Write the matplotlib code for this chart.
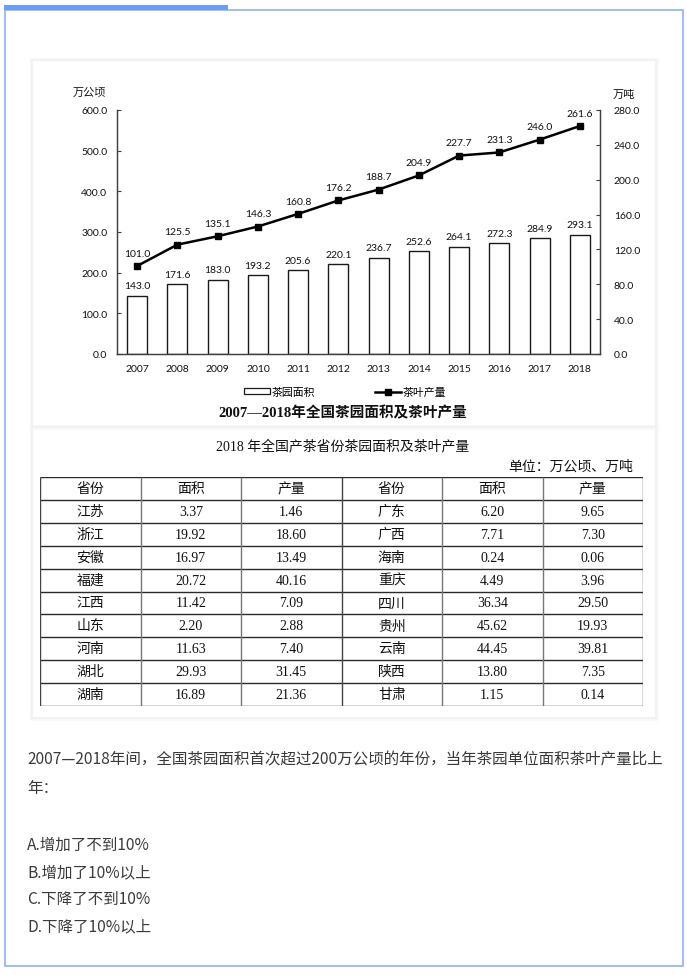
import numpy as np
import matplotlib

matplotlib.use("Agg")
import matplotlib.pyplot as plt
from matplotlib.patches import Rectangle
from matplotlib.lines import Line2D

plt.rcParams["font.family"] = ["Lato", "Noto Sans CJK SC", "DejaVu Sans"]

W, H = 687, 978

# chart data
years = ["2007", "2008", "2009", "2010", "2011", "2012",
         "2013", "2014", "2015", "2016", "2017", "2018"]
area = [143.0, 171.6, 183.0, 193.2, 205.6, 220.1,
        236.7, 252.6, 264.1, 272.3, 284.9, 293.1]
output = [101.0, 125.5, 135.1, 146.3, 160.8, 176.2,
          188.7, 204.9, 227.7, 231.3, 246.0, 261.6]

# table data
table_header = ["省份", "面积", "产量", "省份", "面积", "产量"]
prov_left = ["江苏", "浙江", "安徽", "福建", "江西", "山东", "河南", "湖北", "湖南"]
area_left = ["3.37", "19.92", "16.97", "20.72", "11.42", "2.20", "11.63", "29.93", "16.89"]
out_left = ["1.46", "18.60", "13.49", "40.16", "7.09", "2.88", "7.40", "31.45", "21.36"]
prov_right = ["广东", "广西", "海南", "重庆", "四川", "贵州", "云南", "陕西", "甘肃"]
area_right = ["6.20", "7.71", "0.24", "4.49", "36.34", "45.62", "44.45", "13.80", "1.15"]
out_right = ["9.65", "7.30", "0.06", "3.96", "29.50", "19.93", "39.81", "7.35", "0.14"]

question = "2007—2018年间，全国茶园面积首次超过200万公顷的年份，当年茶园单位面积茶叶产量比上"
question2 = "年："
options = ["A.增加了不到10%", "B.增加了10%以上", "C.下降了不到10%", "D.下降了10%以上"]


def box(x0, y0, x1, y1):
    return [x0 / W, 1 - y1 / H, (x1 - x0) / W, (y1 - y0) / H]


fig = plt.figure(figsize=(W / 100, H / 100), dpi=100)

# page background in pixel coords
bg = fig.add_axes([0, 0, 1, 1])
bg.set_xlim(0, W)
bg.set_ylim(H, 0)
bg.axis("off")
bg.add_patch(Rectangle((4.5, 10.5), 678, 956, fill=False, ec="#8fb3f5", lw=1.2))
bg.add_patch(Rectangle((4, 6), 224, 5, fc="#6b9cf7", ec="none"))
for pad, col in [(2.5, "#f9f9f9"), (1.2, "#f1f1f1")]:
    bg.add_patch(Rectangle((33 - pad, 62 - pad), 622 + 2 * pad, 365 + 2 * pad,
                           fill=False, ec=col, lw=1.5))
    bg.add_patch(Rectangle((33 - pad, 429 - pad), 622 + 2 * pad, 289 + 2 * pad,
                           fill=False, ec=col, lw=1.5))

txt = "#3a3a3a"
qfont = ["Noto Sans CJK SC", "DejaVu Sans"]
bg.text(27, 760, question, fontsize=11.2, color=txt, va="center", family=qfont)
bg.text(27, 789, question2, fontsize=11.2, color=txt, va="center", family=qfont)
for i, opt in enumerate(options):
    bg.text(27, 845 + i * 27.3, opt, fontsize=11.2, color=txt, va="center", family=qfont)

# chart
ax = fig.add_axes(box(117, 111, 600, 355))
x = np.arange(len(years))
ax.bar(x, area, width=0.5, facecolor="white", edgecolor="#1a1a1a", linewidth=1.0,
       label="茶园面积", zorder=2)
ax.set_xlim(-0.5, len(years) - 0.5)
ax.set_ylim(0, 600)
ax.set_yticks(np.arange(0, 601, 100))
ax.set_yticklabels([f"{v:.1f}" for v in np.arange(0, 601, 100)])
ax.set_xticks(x)
ax.set_xticklabels(years)
for xi, v in zip(x, area):
    ax.annotate(f"{v:.1f}", (xi, v), xytext=(0, 4), textcoords="offset points",
                ha="center", va="bottom", fontsize=7.5, color="#111111")

ax2 = ax.twinx()
ax2.plot(x, output, color="black", lw=1.8, marker="s", markersize=5,
         label="茶叶产量", zorder=3)
ax2.set_ylim(0, 280)
ax2.set_yticks(np.arange(0, 281, 40))
ax2.set_yticklabels([f"{v:.1f}" for v in np.arange(0, 281, 40)])
for xi, v in zip(x, output):
    ax2.annotate(f"{v:.1f}", (xi, v), xytext=(0, 6), textcoords="offset points",
                 ha="center", va="bottom", fontsize=7.5, color="#111111")

for a in (ax, ax2):
    a.spines["top"].set_visible(False)
    for s in ("left", "right", "bottom"):
        a.spines[s].set_color("#404040")
        a.spines[s].set_linewidth(0.9)
    a.tick_params(labelsize=7.5, colors="#111111", length=3, width=0.8, direction="in")
    a.tick_params(axis="y", colors="#404040", labelcolor="#111111")
ax.tick_params(axis="x", length=0, pad=7)
ax.tick_params(axis="y", pad=7)
ax2.tick_params(axis="y", pad=10)

fig.text(73 / W, 1 - 93 / H, "万公顷", fontsize=8, va="center", family=qfont, color="#111111")
fig.text(613 / W, 1 - 95 / H, "万吨", fontsize=8, va="center", family=qfont, color="#111111")

handles = [Rectangle((0, 0), 1, 1, fc="white", ec="#1a1a1a", lw=0.9),
           Line2D([], [], color="black", lw=1.8, marker="s", markersize=4.5)]
fig.legend(handles, ["茶园面积", "茶叶产量"], loc="center", bbox_to_anchor=(345 / W, 1 - 393 / H),
           ncol=2, frameon=False, handlelength=2.4, handleheight=0.5,
           handletextpad=0.2, columnspacing=5.5, prop={"family": qfont, "size": 7.8})

serif = ["Liberation Serif", "Noto Sans CJK SC"]
fig.text(343 / W, 1 - 413 / H, "2007—2018年全国茶园面积及茶叶产量", fontsize=10.5,
         fontweight="bold", ha="center", va="center", family=serif, color="#111111")

# table
fig.text(343 / W, 1 - 446 / H, "2018 年全国产茶省份茶园面积及茶叶产量", fontsize=10,
         ha="center", va="center", family=serif, color="#111111")
fig.text(633 / W, 1 - 467 / H, "单位：万公顷、万吨", fontsize=10,
         ha="right", va="center", family=serif, color="#111111")

tb = fig.add_axes(box(40, 478, 643, 707))
tb.set_xlim(0, 6)
tb.set_ylim(10, 0)
tb.axis("off")
nrow = len(prov_left) + 1
for r in range(nrow + 1):
    tb.plot([0, 6], [r, r], color="#2a2a2a", lw=1.0, solid_capstyle="butt")
for c in range(7):
    tb.plot([c, c], [0, nrow], color="#444444" if c in (0, 3, 6) else "#777777",
            lw=1.0, solid_capstyle="butt")
rows = [table_header] + [list(t) for t in zip(prov_left, area_left, out_left,
                                               prov_right, area_right, out_right)]
for r, row in enumerate(rows):
    for c, cell in enumerate(row):
        tb.text(c + 0.5, r + 0.5, cell, ha="center", va="center", fontsize=10,
                family=serif, color="#111111")

fig.savefig("out.png", dpi=100)
